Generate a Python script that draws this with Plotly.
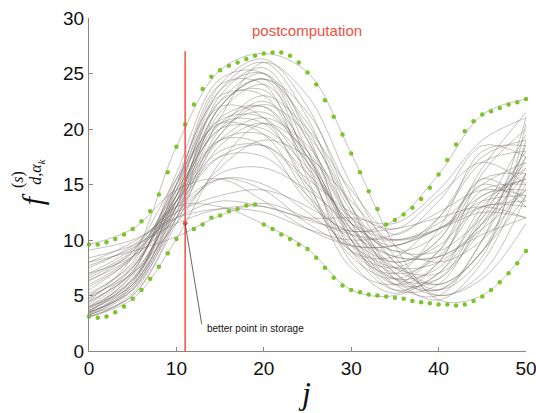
import plotly.graph_objects as go

# ---------------- data ----------------
j_index = list(range(51))
knots_x = [0, 5, 10, 15, 20, 25, 30, 35, 40, 45, 50]

upper_bound = [9.6, 9.6, 9.8, 10.1, 10.5, 11.0, 11.7, 12.6, 14.1, 16.1, 18.4,
               20.4, 22.2, 23.6, 24.7, 25.3, 25.7, 26.0, 26.3, 26.6, 26.8,
               26.9, 26.9, 26.6, 26.0, 25.1, 24.0, 22.6, 21.1, 19.5, 17.8,
               16.1, 14.4, 12.8, 11.4, 11.8, 12.3, 12.9, 13.7, 14.7, 15.9,
               17.2, 18.6, 19.8, 20.7, 21.3, 21.6, 21.9, 22.2, 22.4, 22.7]

lower_bound = [3.1, 3.0, 3.1, 3.5, 4.0, 4.7, 5.5, 6.5, 7.6, 8.8, 10.1,
               11.5, 11.0, 11.4, 12.0, 12.2, 12.6, 12.8, 13.1, 13.2, 11.4,
               11.0, 10.5, 10.1, 9.6, 9.2, 8.4, 7.5, 6.6, 5.9, 5.5,
               5.3, 5.1, 5.0, 4.9, 4.8, 4.7, 4.5, 4.4, 4.3, 4.2,
               4.2, 4.1, 4.2, 4.5, 4.9, 5.5, 6.2, 7.0, 7.9, 9.0]

curves_tall = [
    [4.5, 8.5, 18.4, 25.3, 26.8, 25.1, 17.8, 9.5, 4.6, 5.0, 9.0],
    [3.3, 6.0, 15.0, 24.0, 26.3, 22.0, 13.0, 6.5, 4.6, 8.0, 16.0],
    [3.5, 6.5, 14.0, 23.5, 26.0, 21.0, 11.5, 6.0, 5.0, 10.0, 17.5],
    [3.2, 5.5, 13.0, 23.0, 25.5, 19.5, 10.0, 5.5, 6.0, 12.0, 18.0],
    [3.6, 7.0, 16.0, 24.5, 25.0, 18.0, 9.0, 5.5, 7.0, 13.0, 16.5],
    [3.1, 5.0, 12.0, 22.0, 24.5, 17.0, 8.0, 5.2, 8.0, 14.0, 14.5],
    [3.4, 6.2, 15.0, 24.0, 24.0, 15.5, 7.5, 6.0, 9.0, 15.0, 13.0],
    [4.2, 7.5, 14.5, 22.5, 25.0, 20.0, 12.5, 7.5, 6.0, 9.0, 19.0],
    [3.0, 5.2, 12.5, 21.0, 26.0, 23.0, 15.0, 8.5, 5.0, 7.0, 14.0],
    [3.8, 6.8, 13.5, 22.0, 24.5, 21.5, 14.0, 8.0, 5.5, 8.5, 20.5],
    [3.2, 5.8, 14.5, 23.5, 25.0, 19.0, 10.5, 7.0, 8.5, 13.5, 15.5],
    [3.5, 5.6, 13.5, 22.0, 24.5, 20.5, 13.0, 7.0, 5.0, 6.5, 11.5],
]

curves_mid = [
    [4.5, 7.0, 13.0, 19.5, 22.2, 19.5, 13.0, 8.0, 6.0, 9.0, 16.0],
    [5.0, 8.0, 15.0, 20.8, 21.0, 16.0, 9.5, 6.5, 7.5, 12.5, 17.0],
    [4.0, 6.5, 13.5, 20.5, 20.5, 15.0, 8.5, 6.5, 9.0, 14.5, 15.0],
    [5.5, 8.5, 14.5, 20.0, 21.5, 17.5, 11.0, 7.5, 7.0, 11.0, 18.5],
    [3.7, 6.0, 12.5, 19.0, 21.0, 18.5, 12.0, 7.0, 5.5, 10.0, 21.0],
    [6.3, 9.0, 15.5, 20.5, 19.5, 14.0, 9.0, 7.5, 10.0, 15.5, 13.5],
    [4.8, 7.5, 14.0, 20.0, 20.0, 16.5, 11.5, 9.0, 9.0, 12.0, 16.5],
    [3.4, 5.8, 12.0, 18.5, 20.5, 17.0, 10.5, 6.0, 6.5, 12.5, 19.5],
    [5.2, 7.8, 14.0, 21.0, 22.0, 17.0, 11.5, 9.5, 12.0, 17.0, 18.0],
    [4.0, 6.0, 13.0, 21.5, 24.0, 19.0, 12.0, 9.0, 10.5, 15.5, 16.0],
    [3.5, 5.5, 12.0, 20.0, 23.0, 20.0, 14.5, 10.5, 13.5, 18.5, 17.5],
    [3.3, 5.0, 11.5, 19.5, 22.5, 18.0, 10.0, 6.0, 8.0, 16.0, 20.0],
    [4.4, 7.2, 15.5, 23.0, 23.0, 16.5, 9.0, 7.0, 11.0, 18.0, 18.5],
    [3.1, 4.7, 10.1, 17.0, 20.5, 18.0, 11.5, 6.5, 5.5, 9.0, 14.0],
    [6.0, 8.5, 14.0, 19.0, 18.5, 13.5, 10.8, 11.8, 15.9, 21.3, 22.7],
    [4.0, 7.2, 15.0, 22.0, 21.0, 14.5, 9.0, 8.5, 12.0, 17.5, 19.0],
    [3.6, 6.4, 13.0, 20.5, 22.0, 17.5, 11.0, 8.0, 10.0, 16.5, 21.5],
    [4.7, 7.6, 13.5, 19.0, 19.5, 16.0, 12.0, 10.0, 11.0, 13.5, 14.0],
    [3.9, 6.3, 14.0, 22.5, 23.5, 17.5, 10.0, 6.5, 6.5, 11.5, 17.5],
    [5.0, 7.0, 11.5, 16.5, 19.0, 17.5, 13.5, 9.5, 8.0, 10.0, 15.0],
]

curves_low = [
    [7.5, 9.5, 13.0, 15.5, 14.5, 11.5, 9.5, 9.5, 11.0, 14.0, 15.5],
    [8.0, 9.8, 12.5, 14.0, 14.5, 13.0, 10.5, 8.5, 8.5, 11.0, 14.5],
    [6.8, 9.0, 13.5, 17.5, 17.5, 14.0, 10.0, 8.0, 9.5, 13.0, 13.0],
    [7.0, 8.5, 12.0, 16.0, 16.5, 14.5, 11.5, 10.0, 11.5, 15.0, 17.0],
    [6.4, 8.5, 13.5, 18.0, 18.5, 15.0, 11.0, 8.5, 8.5, 10.5, 12.0],
    [9.6, 11.0, 14.5, 15.5, 13.5, 11.0, 9.5, 9.5, 11.0, 13.0, 13.5],
    [9.1, 10.0, 12.0, 12.8, 12.5, 11.0, 10.0, 10.5, 12.5, 14.5, 14.0],
    [8.4, 9.5, 11.5, 12.8, 13.0, 11.8, 10.8, 11.0, 12.0, 13.0, 12.0],
    [8.0, 9.0, 10.3, 12.2, 13.3, 12.0, 10.5, 10.0, 11.0, 12.5, 12.0],
    [7.0, 9.2, 13.0, 13.0, 11.4, 9.2, 5.5, 5.0, 7.0, 11.5, 14.5],
    [5.8, 8.3, 13.0, 17.5, 18.5, 15.5, 12.5, 11.0, 14.0, 17.0, 15.0],
    [7.7, 9.3, 12.0, 13.5, 13.0, 12.0, 12.0, 11.5, 14.5, 19.0, 21.0],
    [6.6, 8.8, 12.5, 15.5, 15.0, 12.5, 9.5, 7.5, 8.0, 11.5, 16.0],
]

post_index = 11          # postcomputation step
post_top = 27            # top of the marker line
label_anchor = (13.3, 2.0)   # where the storage note sits (x, f)
pointer_end = (12.9, 2.4)
best_stored_label = "better point in storage"

# ---------------- figure ----------------
fig = go.Figure()

line_style = dict(color="rgba(120,110,107,0.5)", width=0.85, shape="spline", smoothing=1.0)
for group in (curves_tall, curves_mid, curves_low):
    for c in group:
        fig.add_trace(go.Scatter(x=knots_x, y=c, mode="lines", line=line_style,
                                 hoverinfo="skip", showlegend=False))

green = "#7cc42a"
fig.add_trace(go.Scatter(x=j_index, y=upper_bound, mode="markers",
                         marker=dict(color=green, size=4.5), cliponaxis=False,
                         showlegend=False))
fig.add_trace(go.Scatter(x=j_index, y=lower_bound, mode="markers",
                         marker=dict(color=green, size=4.5), cliponaxis=False,
                         showlegend=False))

red = "#f0503f"
fig.add_shape(type="line", x0=post_index, x1=post_index, y0=0, y1=post_top,
              xref="x", yref="y", line=dict(color=red, width=1.5))
fig.add_shape(type="line", x0=post_index, y0=lower_bound[post_index],
              x1=pointer_end[0], y1=pointer_end[1], xref="x", yref="y",
              line=dict(color="#5a5250", width=0.9))
fig.add_trace(go.Scatter(x=[post_index], y=[lower_bound[post_index]], mode="markers",
                         marker=dict(color=red, size=4.5), showlegend=False))

fig.add_annotation(x=label_anchor[0], y=label_anchor[1], xref="x", yref="y",
                   text=best_stored_label, showarrow=False, xanchor="left",
                   yanchor="middle",
                   font=dict(family="Liberation Sans", size=10, color="#111"))

fig.add_annotation(x=24.9, y=28.9, xref="x", yref="y", text="postcomputation",
                   showarrow=False, xanchor="center", yanchor="middle",
                   font=dict(family="Liberation Sans", size=15, color=red))

# axis titles
serif = "Liberation Serif"
title_pos = dict(showarrow=False, xanchor="center", yanchor="middle",
                 xref="paper", yref="paper")
fig.add_annotation(x=0.494, y=-0.126, text="<i>j</i>",
                   font=dict(family=serif, size=32, color="#111"), **title_pos)
fig.add_annotation(x=-0.130, y=0.456, text="<i>f</i>", textangle=-90,
                   font=dict(family=serif, size=30, color="#111"), **title_pos)
fig.add_annotation(x=-0.162, y=0.514, text="(<i>s</i>)", textangle=-90,
                   font=dict(family=serif, size=16, color="#111"), **title_pos)
fig.add_annotation(x=-0.119, y=0.538, text="<i>d</i>,<i>α<sub>k</sub></i>",
                   textangle=-90,
                   font=dict(family=serif, size=16, color="#111"), **title_pos)

axis_color = "#8c8582"
tick_font = dict(family="Liberation Sans", size=19, color="#111")
common_axis = dict(showline=True, linecolor=axis_color, linewidth=1, ticks="inside",
                   ticklen=4, tickcolor=axis_color, showgrid=False, zeroline=False,
                   tickfont=tick_font, ticklabeloverflow="allow", automargin=False)
fig.update_xaxes(range=[0, 50], tickvals=[0, 10, 20, 30, 40, 50], **common_axis)
fig.update_yaxes(range=[0, 30], tickvals=[0, 5, 10, 15, 20, 25, 30], **common_axis)

fig.update_layout(width=536, height=413, margin=dict(l=89, r=10, t=18, b=62),
                  paper_bgcolor="white", plot_bgcolor="white", showlegend=False)

fig.write_html("out.html")
